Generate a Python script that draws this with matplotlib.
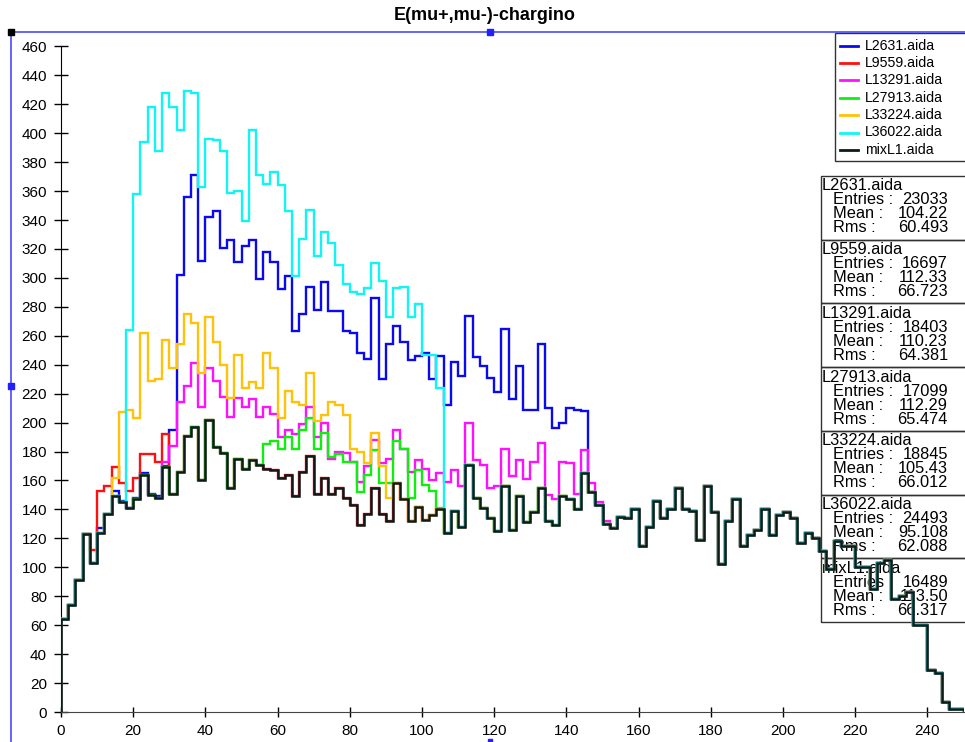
import numpy as np
import matplotlib
matplotlib.use('Agg')
import matplotlib.pyplot as plt
from matplotlib.patches import Rectangle
from matplotlib.lines import Line2D

plt.rcParams['font.family'] = ['Liberation Sans', 'DejaVu Sans']

# histogram binning: 125 bins of width 2 from 0 to 250
bin_width = 2
n_bins = 125

# mixL1.aida, full range
mix_l1 = [64, 74, 91, 123, 103, 124, 137, 149, 145, 141, 147, 164, 150, 148, 169,
          151, 166, 191, 197, 160, 202, 183, 179, 155, 175, 168, 174, 171, 168, 167,
          162, 164, 149, 166, 177, 151, 162, 151, 155, 148, 143, 129, 137, 155, 137,
          132, 158, 147, 132, 142, 133, 136, 140, 124, 139, 128, 171, 148, 141, 134,
          125, 156, 126, 149, 131, 138, 155, 132, 129, 149, 147, 140, 165, 152, 143,
          130, 127, 135, 134, 140, 115, 128, 146, 134, 140, 155, 140, 139, 119, 156,
          138, 102, 132, 147, 115, 122, 126, 140, 122, 136, 138, 134, 117, 124, 120,
          111, 99, 118, 115, 115, 100, 100, 85, 103, 105, 78, 80, 83, 60, 60,
          29, 27, 7, 2, 2]

# the other samples only differ from mixL1 over a stretch of bins
l2631_start = 5
l2631 = [127, 137, 153, 146, 141, 148, 165, 151, 149, 170, 195, 302, 356, 371, 312,
         342, 346, 321, 326, 311, 322, 326, 299, 318, 311, 292, 301, 263, 275, 294,
         278, 297, 277, 277, 263, 262, 248, 244, 286, 230, 254, 267, 256, 243, 246,
         248, 230, 246, 212, 242, 232, 274, 245, 239, 231, 221, 265, 216, 239, 209,
         209, 254, 210, 196, 200, 210, 209, 208]

l9559_start = 4
l9559 = [112, 153, 156, 169, 158, 153, 162, 178, 178, 173, 192]

l13291_start = 14
l13291 = [173, 184, 214, 225, 241, 211, 238, 229, 218, 204, 217, 211, 216, 204, 211,
          206, 190, 195, 192, 199, 211, 190, 200, 175, 180, 179, 173, 159, 170, 188,
          172, 175, 195, 182, 166, 174, 168, 160, 165, 159, 167, 156, 200, 174, 171,
          155, 156, 182, 163, 174, 161, 173, 186, 150, 147, 173, 172, 151, 181, 158,
          145, 132]

l27913_start = 28
l27913 = [185, 187, 182, 190, 182, 195, 203, 182, 193, 176, 178, 173, 173, 152, 164,
          181, 158, 158, 187, 182, 148, 167, 157, 153, 141]

l33224_start = 7
l33224 = [162, 207, 209, 203, 262, 229, 230, 257, 238, 254, 275, 269, 234, 273, 256,
          240, 217, 247, 224, 228, 224, 248, 238, 203, 222, 214, 212, 234, 201, 205,
          214, 212, 205, 182, 180, 172, 193, 170, 148]

l36022_start = 9
l36022 = [264, 358, 394, 418, 388, 428, 418, 402, 429, 428, 363, 396, 395, 388, 359,
          360, 339, 402, 371, 365, 373, 364, 346, 301, 327, 347, 315, 332, 324, 309,
          296, 290, 289, 293, 310, 298, 273, 293, 294, 273, 282, 247, 247, 224]

names = ['L2631.aida', 'L9559.aida', 'L13291.aida', 'L27913.aida',
         'L33224.aida', 'L36022.aida', 'mixL1.aida']
colors = ['#0a0af0', '#ff1010', '#ff10ff', '#10ee10', '#ffc20a', '#10f4f4', '#0d1a1a']
entries = ['23033', '16697', '18403', '17099', '18845', '24493', '16489']
means = ['104.22', '112.33', '110.23', '112.29', '105.43', '95.108', '113.50']
rmss = ['60.493', '66.723', '64.381', '65.474', '66.012', '62.088', '66.317']

W, H = 965, 742
fig = plt.figure(figsize=(W / 100, H / 100), dpi=100)
ax = fig.add_axes([61 / W, 1 - 712 / H, (963.5 - 61) / W, (712 - 46.4) / H])

def fx(px):
    return px / W

def fy(py):
    return 1 - py / H

edges = np.arange(n_bins + 1) * bin_width
base = np.array(mix_l1, dtype=float)
parts = [(l2631_start, l2631), (l9559_start, l9559), (l13291_start, l13291),
         (l27913_start, l27913), (l33224_start, l33224), (l36022_start, l36022)]
for (start, vals), c in zip(parts, colors[:6]):
    full = base.copy()
    full[start:start + len(vals)] = vals
    ax.stairs(full, edges, color=c, lw=1.7, baseline=0, zorder=4)
ax.stairs(base, edges, color=colors[6], lw=1.8, baseline=0, zorder=5)

ax.set_xlim(0, 250)
ax.set_ylim(0, 460)
ax.set_xticks(np.arange(0, 241, 20))
ax.set_yticks(np.arange(0, 461, 20))
for s in ['top', 'right']:
    ax.spines[s].set_visible(False)
ax.spines['left'].set_color('black')
ax.spines['bottom'].set_color('#444444')
ax.tick_params(axis='y', direction='inout', length=10, width=1, pad=5, labelsize=11)
ax.tick_params(axis='x', direction='inout', length=7, width=1, pad=5, labelsize=11)
ax.patch.set_alpha(0)

# title
fig.text(fx(485), fy(16), 'E(mu+,mu-)-chargino', ha='center', va='center',
         fontsize=13, fontweight='bold')

# legend box
ax.add_patch(Rectangle((fx(835), fy(161)), fx(140), 128 / H, transform=fig.transFigure,
                       facecolor='white', edgecolor='#333333', lw=1, clip_on=False, zorder=6))
for i, (n, c) in enumerate(zip(names, colors)):
    yy = fy(45.5 + 17.4 * i)
    ax.add_line(Line2D([fx(840), fx(858)], [yy, yy], color=c, lw=2,
                       transform=fig.transFigure, clip_on=False, zorder=7))
    ax.text(fx(865), yy, n, transform=fig.transFigure, ha='left', va='center',
            fontsize=10.2, zorder=7, clip_on=False)

# statistics boxes
box_h = (622 - 176) / 7
for i in range(7):
    top = 176 + box_h * i
    ax.add_patch(Rectangle((fx(821), fy(top + box_h)), fx(150), box_h / H,
                           transform=fig.transFigure, fill=False, edgecolor='#333333',
                           lw=1, clip_on=False, zorder=2))
    ax.text(fx(822), fy(top + 10), names[i], transform=fig.transFigure,
            ha='left', va='center', fontsize=11.8, zorder=2)
    rows = [('Entries :', entries[i]), ('Mean :', means[i]), ('Rms :', rmss[i])]
    for j, (lab, val) in enumerate(rows):
        yy = fy(top + 24 + 14 * j)
        ax.text(fx(833), yy, lab, transform=fig.transFigure, ha='left', va='center',
                fontsize=11.8, zorder=2)
        ax.text(fx(948), yy, val, transform=fig.transFigure, ha='right', va='center',
                fontsize=11.8, zorder=2)

# selection frame around the plot
frame = '#4a4aff'
fig.add_artist(Line2D([fx(10.5), fx(10.5)], [0, fy(32)], color=frame, lw=1.2))
fig.add_artist(Line2D([fx(10.5), 1], [fy(32), fy(32)], color=frame, lw=1.2))
fig.add_artist(Line2D([fx(10.5)], [fy(32)], marker='s', ms=4, color='black', lw=0))
fig.add_artist(Line2D([fx(490)], [fy(32)], marker='s', ms=4, color='#2020ff', lw=0))
fig.add_artist(Line2D([fx(10.5)], [fy(386)], marker='s', ms=4, color='#2020ff', lw=0))
fig.add_artist(Line2D([fx(490)], [fy(741)], marker='s', ms=3, color='#2020ff', lw=0))

fig.savefig('out.png', dpi=100)
